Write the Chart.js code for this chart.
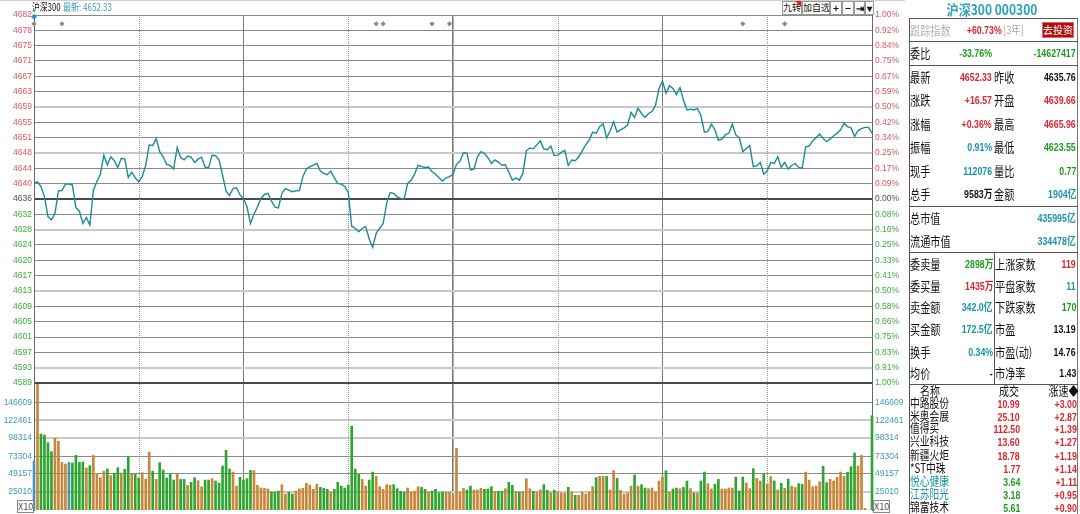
<!DOCTYPE html>
<html>
<head>
<meta charset="utf-8">
<script src="https://cdn.jsdelivr.net/npm/chart.js@4.4.1/dist/chart.umd.min.js"></script>
<style>
html, body { margin: 0; padding: 0; background: #fff; }
body { width: 1080px; height: 514px; overflow: hidden; position: relative; font-family: "Noto Sans CJK SC", "Liberation Sans", sans-serif; }
#priceBox { position: absolute; left: 0; top: 0; }
#volBox { position: absolute; left: 0; top: 370px; }
.t { position: absolute; white-space: nowrap; line-height: 1; }
.ln { position: absolute; }
.btn { position: absolute; top: 1px; height: 12px; border: 1px solid #9a9a9a; background: #fff; font-size: 9px; line-height: 12px; text-align: center; color: #111; box-sizing: content-box; white-space: nowrap; overflow: hidden; }
</style>
</head>
<body>
<div id="priceBox"><canvas id="priceChart" width="905" height="400"></canvas></div>
<div id="volBox"><canvas id="volChart" width="905" height="150"></canvas></div>
<script>
// ---- data ----
const prevClose = 4635.76;
const sessions = [['09:30', '11:30'], ['13:01', '15:00']];

// one price per minute, 09:30 .. 15:00
const prices = [
  4639.7, 4640.1, 4638.9, 4636.3, 4631.3, 4630.5, 4632.1, 4637.8, 4637.9, 4639.5,
  4639.5, 4639.3, 4633.6, 4632.7, 4629.6, 4631.1, 4629.2, 4638.0, 4640.1, 4642.0,
  4646.8, 4644.3, 4646.4, 4645.4, 4643.7, 4646.0, 4645.8, 4641.2, 4642.5, 4641.1,
  4640.1, 4641.4, 4644.3, 4649.4, 4649.2, 4651.0, 4647.7, 4646.4, 4644.5, 4644.2,
  4643.3, 4648.7, 4646.2, 4645.6, 4646.6, 4646.3, 4645.0, 4645.8, 4646.3, 4643.8,
  4643.6, 4646.8, 4646.7, 4645.6, 4641.8, 4637.8, 4636.6, 4638.4, 4638.6, 4636.8,
  4635.8, 4633.8, 4629.6, 4631.9, 4633.8, 4635.9, 4636.9, 4637.2, 4635.3, 4633.7,
  4633.5, 4637.2, 4638.4, 4638.0, 4637.6, 4637.8, 4637.9, 4641.4, 4643.3, 4643.9,
  4644.3, 4644.7, 4642.8, 4642.2, 4641.9, 4642.8, 4641.1, 4639.7, 4639.5, 4638.9,
  4637.4, 4628.9, 4628.4, 4627.5, 4628.4, 4628.8, 4625.7, 4623.6, 4627.1, 4628.4,
  4629.6, 4634.7, 4637.4, 4637.2, 4636.3, 4635.9, 4635.7, 4639.7, 4640.5, 4642.0,
  4644.3, 4643.9, 4643.7, 4643.8, 4642.6, 4642.0, 4641.1, 4640.3, 4641.1, 4641.4,
  4642.0, 4644.5, 4645.3, 4647.4, 4647.3, 4643.1, 4643.3, 4646.4, 4647.7, 4647.3,
  4646.2, 4644.7, 4645.6, 4645.0, 4644.3, 4644.4, 4642.5, 4640.5, 4641.1, 4640.5,
  4642.2, 4647.9, 4648.6, 4648.4, 4649.4, 4650.4, 4648.4, 4648.2, 4649.1, 4646.7,
  4646.8, 4647.5, 4648.0, 4644.2, 4645.6, 4645.4, 4646.4, 4647.9, 4649.4, 4650.6,
  4652.6, 4652.3, 4654.0, 4654.7, 4651.2, 4652.9, 4655.2, 4652.6, 4653.2, 4653.7,
  4654.4, 4657.6, 4656.3, 4658.6, 4657.3, 4656.3, 4657.3, 4657.8, 4659.4, 4663.6,
  4665.5, 4662.4, 4664.3, 4663.6, 4662.1, 4663.8, 4660.7, 4658.2, 4658.4, 4658.2,
  4658.6, 4656.8, 4652.6, 4652.8, 4654.6, 4653.2, 4650.6, 4650.8, 4651.9, 4652.3,
  4654.6, 4651.9, 4651.2, 4647.7, 4648.5, 4649.2, 4643.9, 4644.1, 4645.0, 4642.0,
  4642.8, 4645.0, 4644.7, 4646.4, 4643.7, 4645.0, 4643.3, 4644.2, 4644.7, 4643.7,
  4643.5, 4648.9, 4649.1, 4650.4, 4651.2, 4652.1, 4651.0, 4650.2, 4650.9, 4651.7,
  4652.3, 4653.2, 4654.8, 4654.0, 4653.7, 4651.5, 4653.0, 4653.5, 4653.8, 4653.8,
  4652.33
];

const volumes = [
  66900, 175000, 103700, 102300, 91900, 79600, 98200, 93700, 65000, 62800,
  65000, 64100, 74600, 65000, 65500, 57300, 60500, 74600, 50000, 44100,
  53200, 55900, 46800, 50000, 57800, 50500, 55500, 73200, 49100, 48700,
  43700, 50900, 42300, 79100, 52800, 41800, 64600, 54600, 43700, 48700,
  40900, 48700, 41800, 41800, 33700, 37700, 44100, 40000, 31800, 40900,
  40900, 42800, 39600, 36800, 60000, 81400, 55900, 51800, 32700, 44600,
  40900, 42800, 54100, 53700, 33700, 30000, 29600, 28700, 24600, 24600,
  25900, 34600, 21800, 24600, 21800, 25900, 28700, 29600, 36400, 34100,
  28200, 35000, 30900, 29600, 28200, 24600, 28200, 37700, 32700, 30000,
  33700, 114600, 55900, 48700, 41800, 32700, 40900, 51800, 45900, 31800,
  28200, 34600, 33700, 34600, 29100, 25500, 24600, 30000, 24600, 25900,
  31800, 30900, 28200, 24600, 25900, 28200, 23600, 24600, 24600, 24600,
  20000, 84100, 24600, 29600, 27300, 32700, 27300, 27300, 29600, 28200,
  28700, 31800, 25500, 25500, 25500, 29100, 37700, 33700, 25500, 24600,
  25500, 42800, 29100, 25500, 24600, 27300, 34600, 26800, 23600, 27300,
  24600, 23200, 23200, 30900, 24600, 20000, 20000, 24600, 21800, 24600,
  31800, 44100, 45900, 45900, 45900, 27300, 53700, 43200, 26800, 21800,
  23200, 32700, 47800, 32700, 34600, 30000, 29100, 30000, 24600, 39600,
  45000, 53700, 24600, 28700, 30000, 29100, 30900, 39600, 29100, 23200,
  23200, 39600, 51800, 35900, 28700, 35000, 41800, 28700, 28700, 30000,
  30000, 45000, 25900, 45000, 36800, 29100, 56400, 43200, 39600, 48700,
  35500, 45500, 39600, 27300, 36400, 29600, 42300, 32700, 30900, 35900,
  35000, 51800, 40900, 31800, 32700, 38700, 59600, 37300, 41800, 39600,
  44600, 51800, 45900, 51400, 59100, 77800, 60000, 74600, 2300, 0,
  128700
];

const priceTickLabels = ['4682', '4678', '4675', '4671', '4667', '4663', '4659', '4655', '4651', '4648', '4644', '4640', '4636',
  '4632', '4628', '4624', '4620', '4617', '4613', '4609', '4605', '4601', '4597', '4593', '4589'];
const pctTickLabels = ['1.00%', '0.92%', '0.84%', '0.75%', '0.67%', '0.59%', '0.50%', '0.42%', '0.34%', '0.25%', '0.17%', '0.09%', '0.00%',
  '0.08%', '0.16%', '0.25%', '0.33%', '0.41%', '0.50%', '0.58%', '0.66%', '0.75%', '0.83%', '0.91%', '1.00%'];
const volTicks = [25010, 49157, 73304, 98314, 122461, 146609];
const volMax = 172000;

const markMinutes = [0, 8, 98, 100, 114, 119, 203, 215];
const noteMinutes = [0];

// ---- colours ----
const RED = '#d9262f', GREEN = '#1f9a22', TEAL = '#1b93a8', BLACK = '#111';
const LINE = '#1d8b98';
const UP = '#c8863a', DOWN = '#2fa52f', FLAT = '#4796b3';

// minute labels for the category axis
function minuteLabels() {
  const out = [];
  sessions.forEach(([a, b]) => {
    const toMin = s => +s.slice(0, 2) * 60 + +s.slice(3);
    for (let m = toMin(a); m <= toMin(b); m++) {
      out.push(String(Math.floor(m / 60)).padStart(2, '0') + ':' + String(m % 60).padStart(2, '0'));
    }
  });
  return out;
}
const labels = minuteLabels();

const priceMin = prevClose * 0.99, priceMax = prevClose * 1.01;
const markLevel = 4679.9, noteLevel = 4681.7;

const barColors = volumes.map((v, i) => {
  if (i === 0) return FLAT;
  const d = prices[i] - prices[i - 1];
  return d > 0 ? UP : d < 0 ? DOWN : FLAT;
});

const solidMinutes = [60, 120, 180];
const dotMinutes = [30, 90, 150, 210];

const dottedLines = {
  id: 'dottedLines',
  beforeDatasetsDraw(chart) {
    const { ctx, chartArea, scales: { x } } = chart;
    ctx.save();
    ctx.strokeStyle = '#999';
    ctx.lineWidth = 1;
    ctx.setLineDash([1, 1]);
    dotMinutes.forEach(i => {
      const px = Math.round(x.getPixelForValue(i)) + 0.5;
      ctx.beginPath();
      ctx.moveTo(px, chartArea.top);
      ctx.lineTo(px, chartArea.bottom);
      ctx.stroke();
    });
    ctx.restore();
  }
};

const xGrid = {
  drawTicks: false,
  offset: false,
  color: c => solidMinutes.includes(c.index) ? '#7a7a7a' : 'rgba(0,0,0,0)',
  lineWidth: c => c.index === 120 ? 1.6 : 1
};
const tickFont = { family: 'Liberation Sans', size: 8.5 };

function evenTicks(scale) {
  const n = priceTickLabels.length;
  scale.ticks = priceTickLabels.map((_, k) => ({ value: priceMin + (priceMax - priceMin) * k / (n - 1) }));
}
const lightRows = [6, 9, 14, 18, 23];

new Chart(document.getElementById('priceChart'), {
  type: 'line',
  data: {
    labels: labels,
    datasets: [
      { data: prices, borderColor: LINE, borderWidth: 1.4, pointRadius: 0, tension: 0 },
      { data: labels.map((_, i) => markMinutes.includes(i) ? markLevel : null), showLine: false,
        pointStyle: 'rectRot', pointRadius: 2.6, pointBackgroundColor: '#8a8a8a', pointBorderWidth: 0, clip: false },
      { data: labels.map((_, i) => noteMinutes.includes(i) ? noteLevel : null), showLine: false,
        pointStyle: 'rectRot', pointRadius: 3, pointBackgroundColor: '#2f8fd8', pointBorderWidth: 0, clip: false }
    ]
  },
  options: {
    responsive: false,
    animation: false,
    layout: { padding: { top: 15, bottom: 17, left: 0, right: 0 } },
    plugins: { legend: { display: false }, tooltip: { enabled: false } },
    scales: {
      x: { offset: false, ticks: { display: false, autoSkip: false }, grid: xGrid, border: { display: false } },
      y: {
        position: 'left', min: priceMin, max: priceMax,
        afterBuildTicks: evenTicks,
        afterFit: s => { s.width = 34; },
        ticks: {
          padding: 2, font: tickFont,
          callback: (v, i) => priceTickLabels[priceTickLabels.length - 1 - i],
          color: c => { const k = 24 - c.index; return k < 12 ? '#e0545c' : k === 12 ? '#4a4a4a' : '#3aae3a'; }
        },
        grid: {
          drawTicks: false,
          color: c => { const k = 24 - c.index; return (k === 12 || k === 24) ? '#4a4a4a' : lightRows.includes(k) ? '#c9c9c9' : '#8a8a8a'; },
          lineWidth: c => { const k = 24 - c.index; return (k === 12 || k === 24 || lightRows.includes(k)) ? 2 : 1; }
        },
        border: { color: '#666' }
      },
      y2: {
        position: 'right', min: priceMin, max: priceMax,
        afterBuildTicks: evenTicks,
        afterFit: s => { s.width = 33; },
        ticks: {
          padding: 3, font: tickFont,
          callback: (v, i) => pctTickLabels[pctTickLabels.length - 1 - i],
          color: c => { const k = 24 - c.index; return k < 12 ? '#e0545c' : k === 12 ? '#46506e' : '#3aae3a'; }
        },
        grid: { display: false, drawTicks: false },
        border: { color: '#666' }
      }
    }
  },
  plugins: [dottedLines]
});

const volLight = [0, 3, 4];
new Chart(document.getElementById('volChart'), {
  type: 'bar',
  data: {
    labels: labels,
    datasets: [{ data: volumes, backgroundColor: barColors, barThickness: 2, borderWidth: 0,
      clip: { left: 3, right: 3, top: 0, bottom: 0 } }]
  },
  options: {
    responsive: false,
    animation: false,
    layout: { padding: { top: 14, bottom: 10, left: 0, right: 0 } },
    plugins: { legend: { display: false }, tooltip: { enabled: false } },
    scales: {
      x: { offset: false, ticks: { display: false, autoSkip: false }, grid: xGrid, border: { display: false } },
      y: {
        position: 'left', min: 0, max: volMax,
        afterBuildTicks: s => { s.ticks = volTicks.map(v => ({ value: v })); },
        afterFit: s => { s.width = 34; },
        ticks: { padding: 2, font: tickFont, color: '#3a9bb5', callback: v => String(v) },
        grid: {
          drawTicks: false,
          color: c => volLight.includes(c.index) ? '#c9c9c9' : '#8a8a8a',
          lineWidth: c => volLight.includes(c.index) ? 2 : 1
        },
        border: { color: '#666' }
      },
      y2: {
        position: 'right', min: 0, max: volMax,
        afterBuildTicks: s => { s.ticks = volTicks.map(v => ({ value: v })); },
        afterFit: s => { s.width = 33; },
        ticks: { padding: 3, font: tickFont, color: '#3a9bb5', callback: v => String(v) },
        grid: { display: false, drawTicks: false },
        border: { color: '#666' }
      }
    }
  },
  plugins: [dottedLines]
});

// ---- text and frame around the charts ----
const NUM = '"Liberation Sans", "Noto Sans CJK SC", sans-serif';
const CJK = '"Noto Sans CJK SC", sans-serif';

function put(text, x, y, o) {
  o = o || {};
  const el = document.createElement('div');
  el.className = 't';
  el.textContent = text;
  const size = o.size || 12;
  const sx = o.sx || 1;
  el.style.fontSize = size + 'px';
  el.style.color = o.color || BLACK;
  if (o.bold) el.style.fontWeight = 'bold';
  if (o.font) el.style.fontFamily = o.font;
  // CJK glyphs sit a little low with line-height 1
  const lift = o.font === CJK ? 1 : 0;
  el.style.top = (y - size / 2 - lift) + 'px';
  const align = o.align || 'left';
  if (align === 'right') {
    el.style.right = (1080 - x) + 'px';
    el.style.transformOrigin = 'right center';
    el.style.transform = 'scaleX(' + sx + ')';
  } else if (align === 'center') {
    el.style.left = x + 'px';
    el.style.transformOrigin = 'center center';
    el.style.transform = 'translateX(-50%) scaleX(' + sx + ')';
  } else {
    el.style.left = x + 'px';
    el.style.transformOrigin = 'left center';
    el.style.transform = 'scaleX(' + sx + ')';
  }
  document.body.appendChild(el);
  return el;
}
function line(x, y, w, h, color) {
  const el = document.createElement('div');
  el.className = 'ln';
  el.style.left = x + 'px'; el.style.top = y + 'px';
  el.style.width = w + 'px'; el.style.height = h + 'px';
  el.style.background = color || '#555';
  document.body.appendChild(el);
}
function box(x, y, w, h, html, cls) {
  const el = document.createElement('div');
  el.className = cls || 'btn';
  el.style.left = x + 'px'; el.style.top = y + 'px';
  el.style.width = w + 'px'; el.style.height = h + 'px';
  el.innerHTML = html;
  document.body.appendChild(el);
  return el;
}

// chart title bar
line(0, 0, 905, 1, '#d0d0d0');
put('沪深300', 32, 7.5, { size: 10, sx: 0.78, font: CJK });
put('最新: 4652.33', 63, 7.5, { size: 10, sx: 0.8, color: '#3a9fb8', font: CJK });

// small tool buttons top right
const tools = [['九转', 782, 18], ['加自选', 802, 26], ['+', 830, 10], ['−', 842, 10], ['⇥', 854, 9], ['▾', 865, 7]];
tools.forEach(([t, x, w]) => {
  const b = box(x, 1, w, 12, t);
  b.style.fontWeight = t.length === 1 ? 'bold' : 'normal';
  if (t.length === 1) b.style.fontSize = '10px';
});
const tri = document.createElement('div');
tri.style.cssText = 'position:absolute;left:795px;top:1px;width:0;height:0;border-top:6px solid #e02020;border-left:6px solid transparent;';
document.body.appendChild(tri);

// X10 boxes under the volume axis
[[17, 500], [873, 500]].forEach(([x, y]) => {
  const b = box(x, y, 15, 11, 'X10');
  b.style.fontSize = '9px'; b.style.lineHeight = '11px'; b.style.color = '#44506e'; b.style.border = '1px solid #888';
});

// ---- quote panel on the right ----
line(909, 18, 1, 496, '#555');
line(1077, 18, 1, 496, '#777');
line(909, 18, 169, 1, '#555');
[41, 65, 206, 252, 384].forEach(y => line(909, y, 169, 1, '#555'));
line(994, 252, 1, 133, '#555');

put('沪深300 000300', 992, 10, { size: 14, sx: 0.86, color: '#2aa2b8', align: 'center', bold: true, font: CJK });

const LBL = { size: 13, sx: 0.78, font: CJK };
const VAL = { size: 11, sx: 0.8, bold: true, font: NUM, align: 'right' };

put('跟踪指数', 910, 30, Object.assign({}, LBL, { color: '#b5b5b5' }));
put('+60.73%', 1002, 30, Object.assign({}, VAL, { color: RED }));
put('[3年]', 1003, 30, { size: 11, sx: 0.85, color: '#a8a8a8', font: CJK });
const goBtn = box(1042, 22, 32, 16, '去投资', 'ln');
goBtn.style.background = '#b00d0d';
goBtn.style.border = '1px solid #e06a6a';
goBtn.style.boxSizing = 'border-box';
goBtn.style.color = '#fff';
goBtn.style.fontSize = '10px';
goBtn.style.lineHeight = '14px';
goBtn.style.textAlign = 'center';

put('委比', 910, 53, LBL);
put('-33.76%', 992, 53, Object.assign({}, VAL, { color: GREEN }));
put('-14627417', 1076, 53, Object.assign({}, VAL, { color: GREEN }));

const quoteRows = [
  ['最新', '4652.33', RED, '昨收', '4635.76', BLACK],
  ['涨跌', '+16.57', RED, '开盘', '4639.66', RED],
  ['涨幅', '+0.36%', RED, '最高', '4665.96', RED],
  ['振幅', '0.91%', TEAL, '最低', '4623.55', GREEN],
  ['现手', '112076', TEAL, '量比', '0.77', GREEN],
  ['总手', '9583万', BLACK, '金额', '1904亿', TEAL]
];
const quoteY = [77, 100.5, 124, 147.5, 171, 194.5];
quoteRows.forEach((r, i) => {
  const y = quoteY[i];
  put(r[0], 910, y, LBL);
  put(r[1], 992, y, Object.assign({}, VAL, { color: r[2] }));
  put(r[3], 994, y, LBL);
  put(r[4], 1076, y, Object.assign({}, VAL, { color: r[5] }));
});

put('总市值', 910, 218.5, LBL);
put('435995亿', 1076, 218.5, Object.assign({}, VAL, { color: TEAL }));
put('流通市值', 910, 241.5, LBL);
put('334478亿', 1076, 241.5, Object.assign({}, VAL, { color: TEAL }));

const statRows = [
  ['委卖量', '2898万', GREEN, '上涨家数', '119', RED],
  ['委买量', '1435万', RED, '平盘家数', '11', TEAL],
  ['卖金额', '342.0亿', TEAL, '下跌家数', '170', GREEN],
  ['买金额', '172.5亿', TEAL, '市盈', '13.19', BLACK],
  ['换手', '0.34%', TEAL, '市盈(动)', '14.76', BLACK],
  ['均价', '-', BLACK, '市净率', '1.43', BLACK]
];
const statY = [264, 286, 307.5, 329.5, 352, 373.5];
statRows.forEach((r, i) => {
  const y = statY[i];
  put(r[0], 910, y, LBL);
  put(r[1], 993, y, Object.assign({}, VAL, { color: r[2] }));
  put(r[3], 995, y, LBL);
  put(r[4], 1076, y, Object.assign({}, VAL, { color: r[5] }));
});

// movers list
put('名称', 930, 392.5, { size: 12.5, sx: 0.8, font: CJK, align: 'center' });
put('成交', 1009, 392.5, { size: 12.5, sx: 0.8, font: CJK, align: 'center' });
put('涨速◆', 1079, 392.5, { size: 12.5, sx: 0.8, font: CJK, align: 'right' });
const moverNames = ['中路股份', '米奥会展', '值得买', '兴业科技', '新疆火炬', '*ST中珠', '悦心健康', '江苏阳光', '锦富技术'];
const moverPrices = ['10.99', '25.10', '112.50', '13.60', '18.78', '1.77', '3.64', '3.18', '5.61'];
const moverSpeeds = ['+3.00', '+2.87', '+1.39', '+1.27', '+1.19', '+1.14', '+1.11', '+0.95', '+0.90'];
const moverUp = [true, true, true, true, true, true, false, false, false];
const moverTeal = [false, false, false, false, false, false, true, true, false];
const moverY = [404.5, 417, 429.5, 442.5, 456, 469, 482.5, 495.5, 508.5];
moverNames.forEach((n, i) => {
  const y = moverY[i];
  put(n, 910, y, { size: 12.5, sx: 0.78, font: CJK, color: moverTeal[i] ? TEAL : BLACK });
  put(moverPrices[i], 1020, y, Object.assign({}, VAL, { color: moverUp[i] ? RED : GREEN }));
  put(moverSpeeds[i], 1077, y, Object.assign({}, VAL, { color: RED }));
});
</script>
</body>
</html>
